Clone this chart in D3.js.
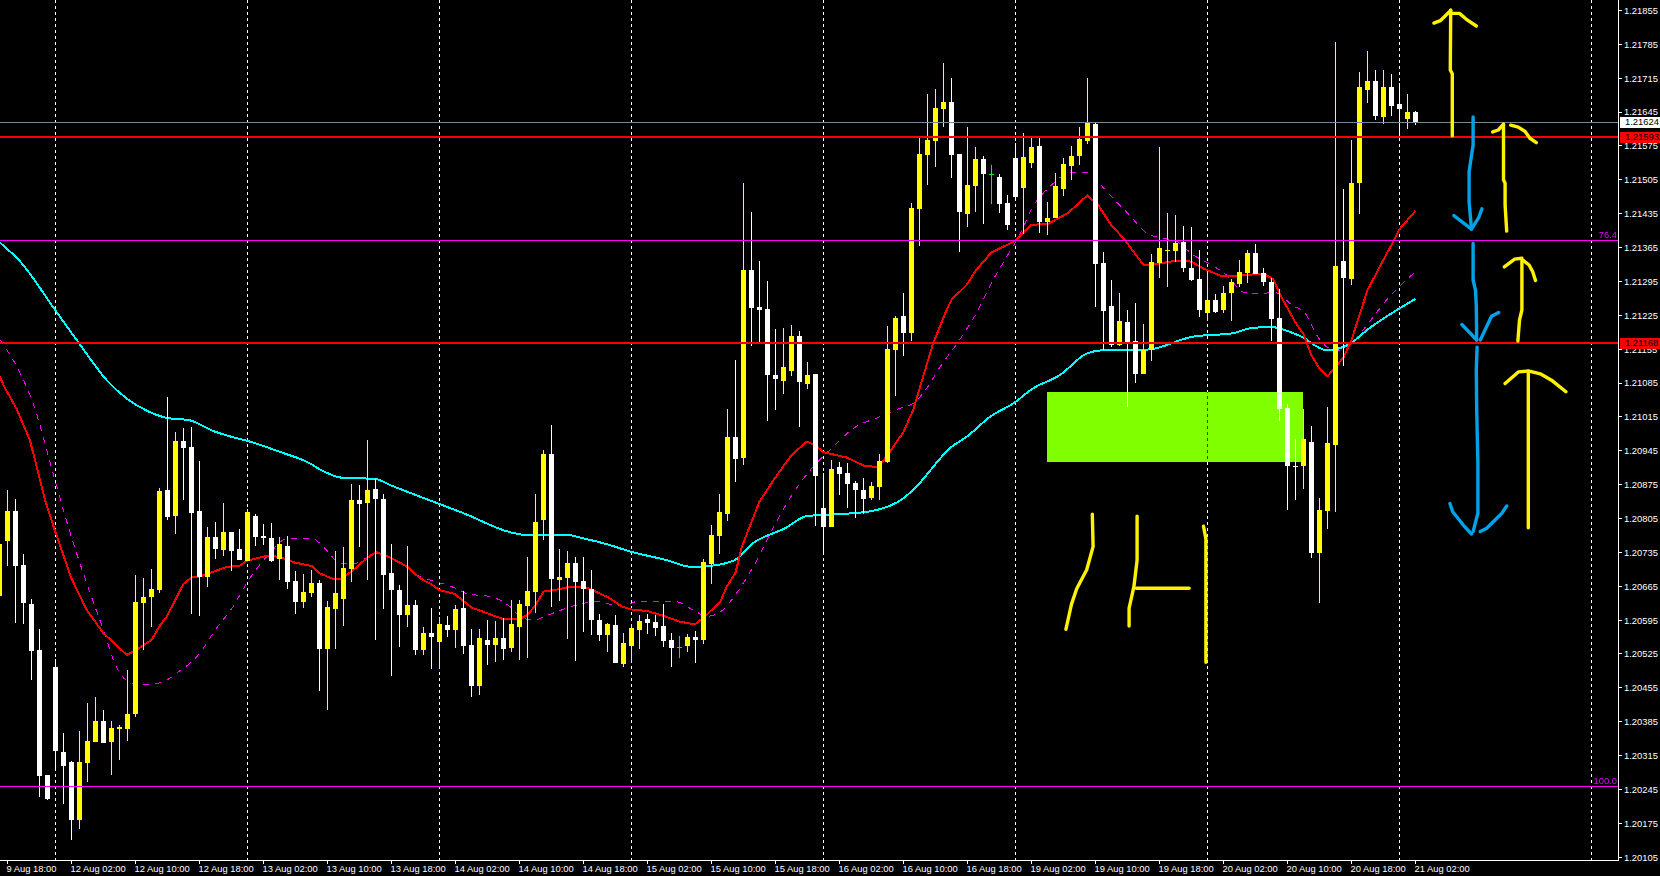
<!DOCTYPE html>
<html>
<head>
<meta charset="utf-8">
<script src="https://cdnjs.cloudflare.com/ajax/libs/d3/7.8.5/d3.min.js"></script>
<style>
html,body{margin:0;padding:0;background:#000;overflow:hidden}
svg{display:block}
text{font-family:"Liberation Sans",Arial,sans-serif;font-size:9.4px}
</style>
</head>
<body>
<svg id="c" width="1660" height="876"></svg>
<script>
// OHLC in points above 1.20000, one entry per hourly bar, first bar index is -1
const opens=[645,
758,820,709,628,533,275,498,322,301,182,
299,343,386,343,370,370,401,630,642,657,
864,810,965,953,820,684,767,740,777,742,
717,810,769,764,721,748,676,632,651,671,
535,618,638,700,843,837,866,845,692,657,
605,626,533,568,549,585,574,620,543,458,
554,543,558,537,581,624,653,802,938,678,
682,713,676,659,595,564,585,504,541,574,
597,591,583,554,540,541,560,554,711,769,
814,973,930,1319,1242,1238,1102,1089,1110,1182,
1083,1104,827,787,911,899,878,864,847,870,
922,1153,1223,1188,1445,1556,1585,1651,1666,1558,
1434,1492,1548,1518,1511,1457,1550,1488,1540,1575,
1418,1426,1486,1533,1554,1585,1620,1333,1244,1164,
1211,1172,1104,1154,1334,1357,1357,1376,1323,1300,
1229,1256,1235,1271,1289,1312,1354,1312,1293,1219,
1033,914,914,963,733,820,956,1337,1300,1498,
1690,1709,1635,1697,1662,1630,1645];
const highs=[767,
864,845,731,638,576,275,514,361,303,365,
423,436,409,386,378,492,688,682,700,868,
1056,984,992,994,924,787,798,837,777,783,
824,814,793,795,767,769,696,690,698,678,
634,738,746,876,874,967,887,855,752,667,
748,636,580,620,601,603,626,655,576,576,
595,593,599,636,636,725,855,946,998,742,
738,725,725,698,607,589,605,568,587,605,
607,605,628,568,562,566,572,721,791,855,
1031,1133,1498,1438,1337,1296,1197,1199,1205,1192,
1128,1104,899,926,921,920,883,889,880,938,
1203,1223,1271,1457,1593,1682,1693,1746,1715,1558,
1614,1573,1554,1536,1517,1474,1581,1602,1593,1591,
1459,1519,1550,1575,1614,1715,1622,1356,1298,1271,
1236,1251,1207,1352,1573,1437,1433,1409,1407,1360,
1316,1269,1285,1300,1339,1360,1372,1323,1302,1279,
1041,969,1032,996,847,1036,1790,1487,1588,1728,
1771,1732,1732,1724,1705,1683,1647];
const lows=[609,
707,589,587,471,229,223,285,215,140,163,
260,343,341,275,306,345,394,533,580,651,
802,773,843,607,603,663,721,727,696,719,
717,748,750,715,678,659,607,620,642,448,
409,535,583,674,746,678,554,618,479,539,
581,523,523,494,494,560,537,525,436,440,
502,508,512,529,512,516,609,760,622,634,
556,510,570,564,552,529,506,498,506,535,
566,562,539,498,516,529,506,545,669,731,
800,880,916,1161,1168,1006,1029,1062,1100,994,
1073,789,731,787,853,827,806,814,843,843,
920,1058,1141,1172,1368,1494,1531,1614,1509,1356,
1407,1438,1414,1455,1436,1401,1463,1393,1529,1395,
1391,1426,1472,1505,1536,1579,1242,1153,1160,1161,
1036,1085,1104,1131,1302,1284,1336,1315,1295,1222,
1213,1229,1229,1213,1284,1292,1310,1285,1172,1007,
823,843,865,723,631,783,818,1120,1288,1434,
1664,1629,1621,1637,1592,1610,1619];
const closes=[753,
820,707,630,531,273,225,324,293,182,301,
345,386,341,372,374,401,632,642,659,862,
808,965,951,816,684,767,742,777,738,719,
818,767,765,717,752,674,632,653,671,535,
622,651,702,843,835,864,845,688,657,605,
626,533,568,560,587,574,618,541,458,558,
543,558,535,587,628,655,797,938,680,684,
713,674,659,595,564,587,506,547,578,593,
589,578,552,537,540,560,554,715,771,818,
973,928,1319,1240,1236,1102,1093,1118,1182,1087,
1102,893,787,907,897,876,864,845,872,924,
1155,1219,1188,1447,1558,1587,1653,1666,1556,1438,
1494,1548,1517,1518,1455,1412,1469,1552,1573,1418,
1426,1492,1538,1554,1589,1624,1331,1234,1164,1214,
1168,1104,1154,1335,1364,1359,1374,1323,1298,1235,
1256,1232,1271,1293,1315,1354,1310,1293,1217,1032,
914,912,969,733,823,961,1327,1302,1498,1697,
1709,1637,1697,1658,1652,1645,1622];

// moving averages: bar index and value in points
const redBars=[-1,-0.3,1.1,2.8,4.7,5.9,8,9.9,12,14.9,16.1,18,19.1,19.9,22,23,24,25.7,27.4,29,30,32.4,34,35.9,38,39,40.7,41.6,43.2,44.9,46.1,48,50,51.6,52.8,54,55.9,58,61.8,64.1,64.9,65.9,67,69,70.3,72,73,75.1,76.8,78,79.9,82,84,85.9,87.2,89.1,89.9,91,91.8,93,94,95.9,98,99.9,100.9,102,104.9,107.2,108.9,110.3,112,113.2,115.7,117.2,118,119.9,121.1,123,126,128,130.1,132.6,135,136.4,138,139.5,142,144,146.1,148,149.3,151.6,153.6,157,158.2,159.3,161,162,163,164,165,167,168,170,172,173.3,174,176];
const redValues=[1100,1074,1033,967,843,781,681,616,568,523,533,554,585,602,670,683,685,695,705,707,718,728,726,714,707,692,680,680,698,723,736,723,705,681,671,657,649,621,598,598,605,623,654,659,664,664,658,642,623,617,614,604,592,586,603,633,664,693,747,798,840,888,936,964,957,942,931,913,912,943,984,1029,1167,1229,1257,1288,1319,1355,1379,1412,1414,1437,1473,1451,1411,1384,1329,1332,1338,1336,1323,1307,1307,1311,1300,1261,1210,1186,1142,1115,1099,1138,1174,1277,1340,1380,1403,1441];
const cyanBars=[-1,1.7,5.7,9,12.4,14.9,17.4,19.9,22.8,25.7,28.2,30.3,34,37.8,39,41.9,45.9,48,51.6,57,63,64.9,69.9,72,74.9,78,82.4,85.5,87.8,90.9,93.2,97.2,99.9,104,108.2,112,113.2,118,119.9,122.8,126,128,131.6,134.9,137,142.4,148.2,153.2,155.3,157.8,161.6,164.9,167.8,169.9,176];
const cyanValues=[1376,1334,1242,1166,1091,1053,1028,1013,1008,986,973,964,943,919,907,889,887,873,850,816,776,771,771,764,752,736,719,705,707,719,754,785,810,814,821,847,864,953,974,1015,1046,1072,1102,1146,1153,1154,1181,1188,1198,1201,1182,1153,1166,1194,1259];
const magentaBars=[-1,2,3.2,5.7,7.6,9.9,12,13.6,15.1,17,19.5,21.1,24,26.1,28.2,30,32.4,35.1,38,39.7,41.6,43.2,46.1,48.6,51.6,52.8,55.7,57.4,60.5,62.8,64.1,65.7,67.8,71.1,73.6,75.3,77,78.6,83.6,85.7,87.4,89.1,91.1,93.2,96.1,98.2,100.7,103.2,105.7,109,111.6,113.2,114.9,116.6,119,121.1,123.2,124.9,126.6,128.2,130.3,133.2,135.3,137,138.6,140.3,142.4,144.5,146.1,148.2,150.3,152.4,154.5,156.6,158.2,160.7,162.2,163.9,165.1,167,168.2,170.3,172.4,174.5,176];
const magentaValues=[1176,1091,1043,898,788,671,574,499,468,461,468,485,526,578,623,674,726,764,764,743,712,711,733,719,685,678,663,650,643,623,602,595,607,626,633,628,624,633,633,616,603,612,650,705,798,857,912,953,991,1015,1033,1043,1074,1119,1174,1229,1298,1346,1394,1450,1491,1521,1520,1488,1460,1431,1395,1384,1378,1350,1331,1308,1273,1269,1273,1245,1229,1178,1158,1152,1170,1213,1257,1293,1315];

// axis labels
const timeLabels=["9 Aug 18:00","12 Aug 02:00","12 Aug 10:00","12 Aug 18:00","13 Aug 02:00","13 Aug 10:00","13 Aug 18:00","14 Aug 02:00","14 Aug 10:00","14 Aug 18:00","15 Aug 02:00","15 Aug 10:00","15 Aug 18:00","16 Aug 02:00","16 Aug 10:00","16 Aug 18:00","19 Aug 02:00","19 Aug 10:00","19 Aug 18:00","20 Aug 02:00","20 Aug 10:00","20 Aug 18:00","21 Aug 02:00"];
const priceTicks=[1.21855,1.21785,1.21715,1.21645,1.21575,1.21505,1.21435,1.21365,1.21295,1.21225,1.21155,1.21085,1.21015,1.20945,1.20875,1.20805,1.20735,1.20665,1.20595,1.20525,1.20455,1.20385,1.20315,1.20245,1.20175,1.20105];
const separatorBars=[6,30,54,78,102,126,150,174,198];
const bidPrice=1.21624;
const redLevels=[1.21593,1.21168];
const fiboLevels=[1.21380,1.20253];
const fiboNames=["76.4","100.0"];
// highlighted zone: bar range and price range
const zoneBars=[129.9,161.9];
const zonePrices=[1.21067,1.20922];

// hand-drawn strokes: [bar, points]
const yellowStrokes=[
 [[180.4,1856],[180.35,1732],[180.6,1724],[180.6,1596]],
 [[178.3,1829],[179.1,1834],[180.4,1855]],
 [[180.65,1849],[181.5,1849],[182.5,1835],[183.6,1823]],
 [[185.65,1604],[186.35,1608],[187,1620]],
 [[187.9,1618],[188.85,1614],[189.7,1605],[190.3,1591],[191.1,1582]],
 [[187,1620],[187,1505],[187.2,1498],[187.2,1453],[187.4,1399]],
 [[187.1,1325],[188.4,1341],[189.3,1343]],
 [[189.3,1339],[189.3,1236],[189,1215],[188.8,1172]],
 [[189.5,1338],[190.2,1329],[190.65,1315],[191,1297]],
 [[190.1,1108],[190.1,786]],
 [[187.2,1084],[188.85,1108],[190.1,1110],[191.6,1104],[193,1091],[194.8,1067]],
 [[135.6,814],[135.7,747],[134.9,699],[133.65,660],[133,628],[132.3,576]],
 [[141.2,810],[141.2,719],[140.8,664],[140.2,620],[140.2,583]],
 [[141.1,661],[147.7,661]],
 [[149.5,789],[149.8,763],[149.8,508]]
];
const blueStrokes=[
 [[183.2,1635],[183.2,1577],[182.7,1522],[182.7,1459],[183,1403]],
 [[180.8,1431],[183,1403],[183.9,1427],[184.3,1445]],
 [[183.2,1374],[183.2,1298],[183.5,1277],[183.6,1243],[183.65,1174]],
 [[181.8,1206],[183.65,1174]],
 [[184.1,1174],[185.5,1223],[186.4,1231]],
 [[183.7,1159],[183.6,1112],[183.65,1029],[183.8,920],[183.8,816],[183.2,778]],
 [[180.3,836],[180.65,819],[182,791],[183,773]],
 [[184.1,778],[184.9,785],[186.8,816],[187.4,831]]
];

const price=p=>1.2+p/1e5;
const firstBar=-1;
const bars=opens.map((o,i)=>({k:i+firstBar,o:price(o),h:price(highs[i]),l:price(lows[i]),c:price(closes[i])}));

const W=1660,H=876,plotR=1618,plotB=860;
const x=d3.scaleLinear().domain([-1,176]).range([-0.5,1415.5]);
const y=d3.scaleLinear().domain([1.21855,1.20105]).range([10.5,857.2]);
const Y=v=>Math.round(y(v));

const svg=d3.select("#c");
svg.append("rect").attr("width",W).attr("height",H).attr("fill","#000");
svg.append("defs").append("clipPath").attr("id","plot").append("rect").attr("width",plotR).attr("height",plotB);
const g=svg.append("g").attr("clip-path","url(#plot)");

// zone
g.append("rect")
 .attr("x",Math.round(x(zoneBars[0]))).attr("width",Math.round(x(zoneBars[1]))-Math.round(x(zoneBars[0])))
 .attr("y",Y(zonePrices[0])).attr("height",Y(zonePrices[1])-Y(zonePrices[0]))
 .attr("fill","#7fff00");

// period separators
g.append("g").style("mix-blend-mode","difference").selectAll("line").data(separatorBars).join("line")
 .attr("x1",d=>x(d)).attr("x2",d=>x(d)).attr("y1",0).attr("y2",plotB)
 .attr("stroke","#fff").attr("stroke-width",1).attr("stroke-dasharray","3 3").attr("shape-rendering","crispEdges");

// moving averages
const line=d3.line().x(d=>x(d[0])).y(d=>y(price(d[1])));
const smooth=d3.line().curve(d3.curveMonotoneX).x(d=>x(d[0])).y(d=>y(price(d[1])));
const drawLine=(gen,bs,vs,color,w,dash)=>g.append("path").attr("d",gen(d3.zip(bs,vs))).attr("fill","none")
 .attr("stroke",color).attr("stroke-width",w).attr("stroke-linejoin","round").attr("stroke-dasharray",dash||null).attr("shape-rendering","crispEdges");
drawLine(smooth,magentaBars,magentaValues,"#ff00ff",1,"6 6");
drawLine(smooth,cyanBars,cyanValues,"#00ffff",2);
drawLine(line,redBars,redValues,"#ff0000",2);

// candles
const colorOf=d=>d.c>d.o?"#ffff00":d.c<d.o?"#ffffff":"#00ff00";
const cg=g.append("g").attr("shape-rendering","crispEdges");
cg.selectAll("rect.w").data(bars).join("rect").attr("class","w")
 .attr("x",d=>x(d.k)-0.5).attr("width",1)
 .attr("y",d=>Y(d.h)).attr("height",d=>Math.max(1,Y(d.l)-Y(d.h))).attr("fill",colorOf);
cg.selectAll("rect.b").data(bars.filter(d=>d.c!==d.o)).join("rect").attr("class","b")
 .attr("x",d=>x(d.k)-2.5).attr("width",5)
 .attr("y",d=>Y(Math.max(d.o,d.c))).attr("height",d=>Math.max(1,Y(Math.min(d.o,d.c))-Y(Math.max(d.o,d.c)))).attr("fill",colorOf);
cg.selectAll("rect.d").data(bars.filter(d=>d.c===d.o)).join("rect").attr("class","d")
 .attr("x",d=>x(d.k)-2.5).attr("width",5).attr("y",d=>Y(d.o)).attr("height",1).attr("fill",colorOf);

// horizontal levels
const hl=g.append("g").attr("shape-rendering","crispEdges");
hl.append("line").attr("x1",0).attr("x2",plotR).attr("y1",Y(bidPrice)+0.5).attr("y2",Y(bidPrice)+0.5).attr("stroke","#778899").attr("stroke-width",1);
hl.selectAll("line.f").data(fiboLevels).join("line").attr("class","f")
 .attr("x1",0).attr("x2",plotR).attr("y1",d=>Y(d)+0.5).attr("y2",d=>Y(d)+0.5).attr("stroke","#ff00ff").attr("stroke-width",1);
hl.selectAll("line.r").data(redLevels).join("line").attr("class","r")
 .attr("x1",0).attr("x2",plotR).attr("y1",d=>Y(d)).attr("y2",d=>Y(d)).attr("stroke","#ff0000").attr("stroke-width",2);
g.selectAll("text.f").data(fiboLevels).join("text").attr("class","f")
 .attr("x",1617).attr("y",d=>Y(d)-2).attr("text-anchor","end").attr("fill","#e000ff").text((d,i)=>fiboNames[i]);

// hand-drawn strokes
const stroke=d3.line().x(d=>x(d[0])).y(d=>y(price(d[1])));
const drawStrokes=(list,color)=>g.append("g").selectAll("path").data(list).join("path").attr("d",stroke)
 .attr("fill","none").attr("stroke",color).attr("stroke-width",3.4).attr("stroke-linecap","round").attr("stroke-linejoin","round");
drawStrokes(yellowStrokes,"#fff200");
drawStrokes(blueStrokes,"#00a2e8");

// axes
const xAxis=d3.axisBottom(x).offset(0).tickValues(timeLabels.map((d,i)=>i*8)).tickSize(4).tickFormat((d,i)=>timeLabels[i]);
const ax=svg.append("g").attr("transform",`translate(0,${plotB})`).call(xAxis);
ax.select(".domain").remove();
ax.selectAll("line").attr("stroke","#fff").attr("shape-rendering","crispEdges");
ax.selectAll("text").attr("fill","#fff").attr("text-anchor","start").attr("dx",-1).attr("y",0).attr("dy",12);

const yAxis=d3.axisRight(y).offset(0).tickValues(priceTicks).tickSize(3).tickFormat(d3.format(".5f"));
const ay=svg.append("g").attr("transform",`translate(${plotR+1},0)`).call(yAxis);
ay.select(".domain").remove();
ay.selectAll("line").attr("stroke","#fff").attr("shape-rendering","crispEdges");
ay.selectAll("text").attr("fill","#fff").attr("x",5).attr("dy","0.36em");

svg.append("line").attr("x1",plotR+0.5).attr("x2",plotR+0.5).attr("y1",0).attr("y2",plotB+0.5).attr("stroke","#fff").attr("shape-rendering","crispEdges");
svg.append("line").attr("x1",0).attr("x2",plotR+1).attr("y1",plotB+0.5).attr("y2",plotB+0.5).attr("stroke","#fff").attr("shape-rendering","crispEdges");

// price tags
const tags=[{p:bidPrice,bg:"#fff"},{p:redLevels[0],bg:"#ff0000"},{p:redLevels[1],bg:"#ff0000"}];
const tg=svg.append("g").selectAll("g").data(tags).join("g").attr("transform",d=>`translate(1620,${Y(d.p)})`);
tg.append("rect").attr("x",0).attr("y",-5).attr("width",40).attr("height",11).attr("fill",d=>d.bg);
tg.append("text").attr("x",5).attr("y",0).attr("dy","0.36em").attr("fill","#000").text(d=>d3.format(".5f")(d.p));
</script>
</body>
</html>
